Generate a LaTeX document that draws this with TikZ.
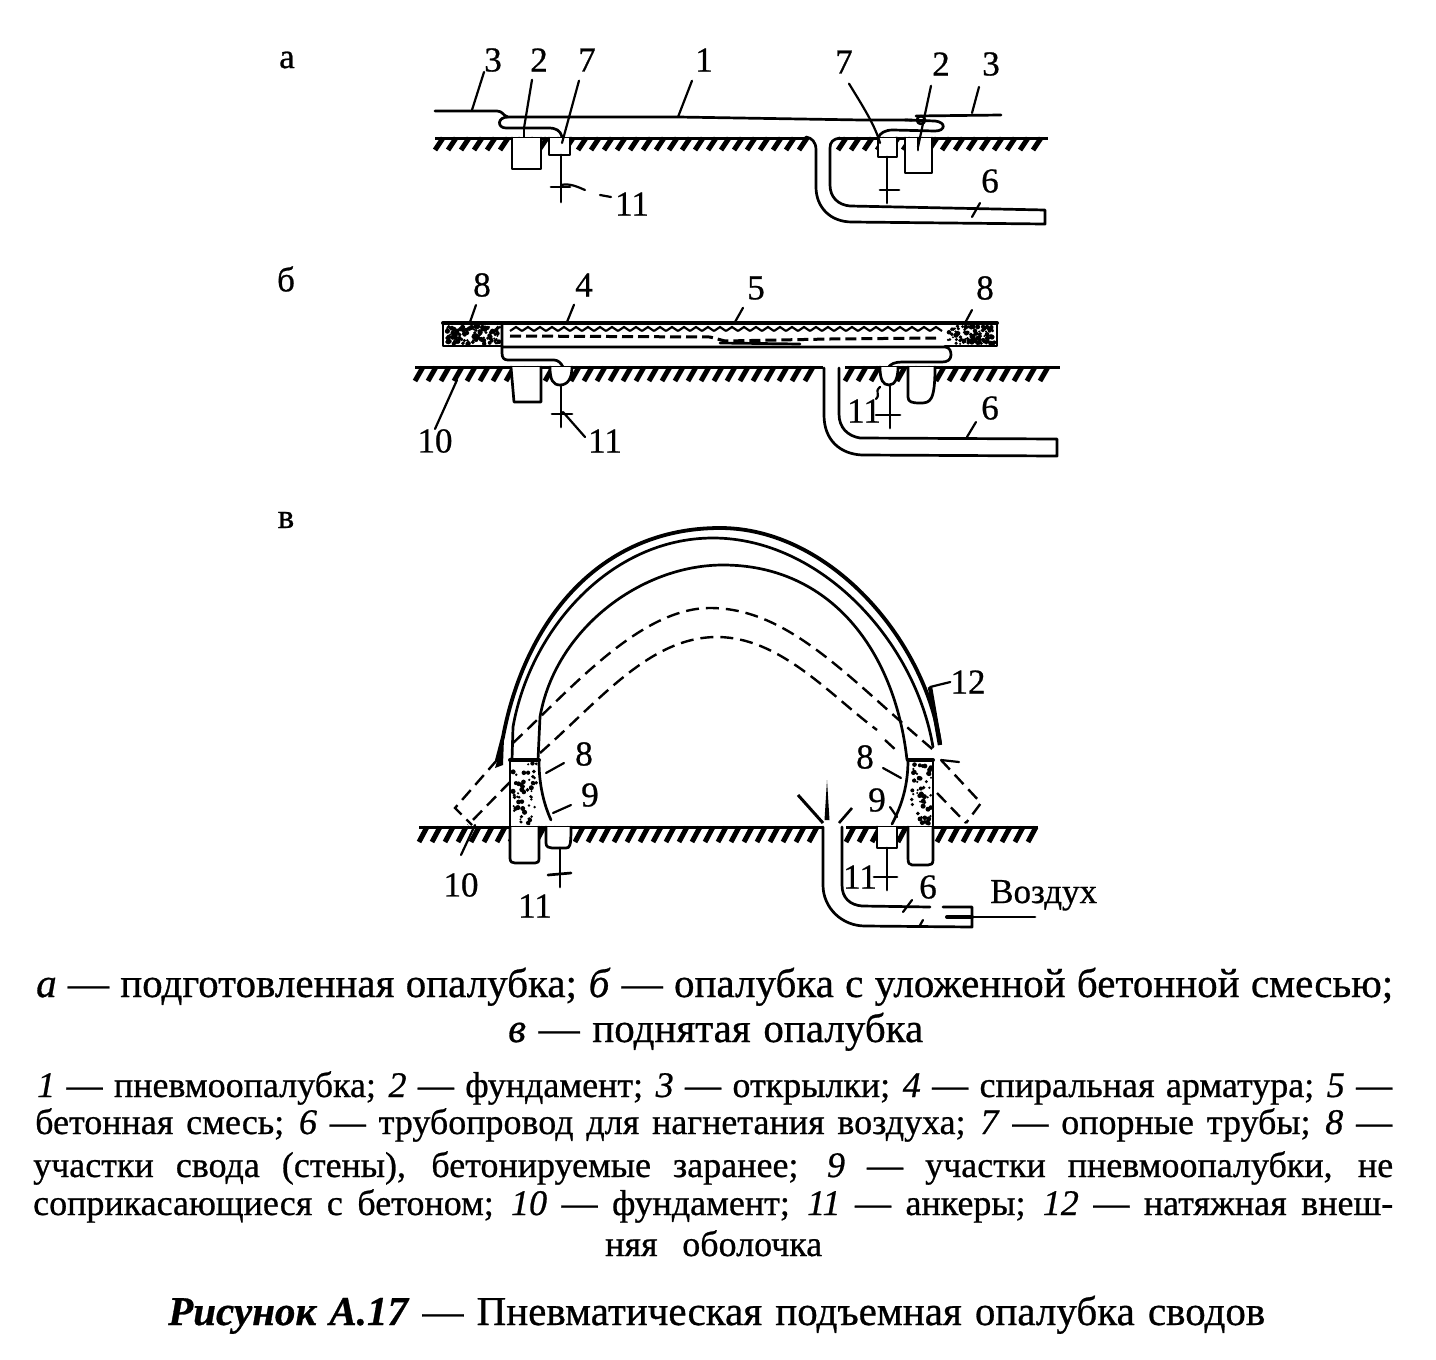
\documentclass[tikz,border=0pt]{standalone}
\usepackage{fontspec}
\setmainfont{Liberation Serif}[FakeBold=0.7]
\usetikzlibrary{calc}
\tikzset{
  ln/.style={line width=2.7pt,line cap=round,line join=round},
  heavy/.style={line width=4pt,line cap=round,line join=round},
  dsh/.style={line width=2.4pt,dash pattern=on 13pt off 7pt},
  leader/.style={line width=2.2pt,line cap=round},
  lab/.style={inner sep=0pt,font=\fontsize{35}{35}\selectfont},
  txt/.style={inner sep=0pt,anchor=base west},
}
\newcommand{\hatchrow}[4]{% x0,x1,ytop,height
  \foreach \hx in {#1,\the\numexpr#1+13\relax,...,#2}{
    \draw[line width=5pt] (\hx,#3+#4) -- (\hx+8,#3);
  }
  \draw[line width=3pt] (#1,#3) -- (#2+8,#3);
}
\newcommand{\stip}[5]{% x0,x1,y0,y1,count
  \foreach \si in {1,...,#5}{
    \pgfmathsetmacro{\sx}{#1+rnd*(#2-#1)}
    \pgfmathsetmacro{\sy}{#3+rnd*(#4-#3)}
    \pgfmathsetmacro{\sr}{1.0+rnd*1.6}
    \fill (\sx,\sy) circle[radius=\sr pt];
  }
}
\begin{document}
\begin{tikzpicture}[x=1pt,y=-1pt]
\useasboundingbox (0,0) rectangle (1436,1360);
\fill[white] (0,0) rectangle (1436,1360);
\pgfmathsetseed{17}

%%% PANEL A
\node[lab] (pa) at (287,60) {а};
\node[lab] (a3l) at (493,60) {3};
\node[lab] (a2l) at (539,60) {2};
\node[lab] (a7l) at (587,60) {7};
\node[lab] (a1) at (704,60) {1};
\node[lab] (a7r) at (844,62) {7};
\node[lab] (a2r) at (941,64) {2};
\node[lab] (a3r) at (991,64) {3};
\node[lab] (a11) at (632,204) {11};
\node[lab] (a6) at (990,181) {6};
\hatchrow{435}{800}{138}{12}
\hatchrow{838}{1040}{138}{12}
% film
\draw[ln] (435,111) -- (497,111) .. controls (503,111) and (503,116) .. (508,117) -- (678,117) -- (862,120) -- (912,120);
\draw[ln] (508,117) .. controls (497,117) and (497,128) .. (506,128) -- (548,128) .. controls (556,128) and (560,130) .. (562,137);
\draw[ln] (916,116) -- (1001,115);
\draw[ln] (905,120) -- (935,121) .. controls (946,122) and (946,131) .. (935,131) -- (893,130) .. controls (885,130) and (880,133) .. (878,138);
\draw[ln] (921,120) circle[radius=4pt];
\draw[ln] (524,128) -- (524,145);
% foundations and cups
\draw[ln,fill=white] (512,138) -- (512,169) -- (541,169) -- (541,138);
\draw[ln,fill=white] (549,138) -- (549,155) -- (570,155) -- (570,138);
\draw[ln] (561,155) -- (561,202);
\draw[ln] (551,187) -- (570,187);
\draw[ln,fill=white] (878,138) -- (878,157) -- (897,157) -- (897,138);
\draw[ln] (887,157) -- (887,203);
\draw[ln] (880,190) -- (899,190);
\draw[ln,fill=white] (905,138) -- (905,173) -- (932,173) -- (932,138);
\draw[ln] (918,138) -- (918,150);
% pipe
\draw[ln] (806,137) .. controls (812,138) and (816,142) .. (816,150) -- (816,187) .. controls (816,207) and (830,222) .. (852,222) -- (1045,224) -- (1045,210) -- (850,206) .. controls (838,205) and (830,197) .. (830,185) -- (830,148) .. controls (830,142) and (833,139) .. (840,138);
% leaders
\draw[leader] (a3l.south west) -- (472,110);
\draw[leader] (a2l.south) ++(-7,8) -- (524,128);
\draw[leader] (a7l.south) ++(-8,9) -- (562,143);
\draw[leader] (a1.south) ++(-12,9) -- (678,117);
\draw[leader] (a7r.south) ++(5,10) .. controls (862,105) and (875,125) .. (880,143);
\draw[leader] (a2r.south) ++(-10,10) -- (918,147);
\draw[leader] (a3r.south) ++(-12,11) -- (972,113);
\draw[leader] (561,185) .. controls (570,183) and (578,187) .. (585,190);
\draw[leader] (600,195) -- (611,197);
\draw[leader] (980,203) -- (972,217);

%%% PANEL B
\node[lab] (pb) at (286,279) {б};
\node[lab] (b8l) at (482,285) {8};
\node[lab] (b4) at (584,285) {4};
\node[lab] (b5) at (756,288) {5};
\node[lab] (b8r) at (985,288) {8};
\node[lab] (b10) at (435,441) {10};
\node[lab] (b11) at (605,441) {11};
\node[lab] (b11r) at (864,411) {11};
\node[lab] (b6) at (990,408) {6};
\hatchrow{415}{815}{367}{14}
\hatchrow{845}{1052}{367}{14}
\draw[heavy] (443,323) -- (997,323);
\draw[ln] (443,323) -- (443,346) -- (502,346);
\draw[ln] (997,323) -- (997,346) -- (945,346);
\stip{446}{500}{326}{344}{130}
\stip{948}{995}{326}{344}{110}
\draw[ln] (502,323) -- (502,353) .. controls (502,358) and (504,360) .. (508,360) -- (554,360) .. controls (558,360) and (561,363) .. (563,367);
\draw[ln] (502,347) -- (945,347) .. controls (950,347) and (951,352) .. (951,355) .. controls (951,360) and (947,362) .. (942,362) -- (902,362) .. controls (895,362) and (890,364) .. (888,368);
\draw[line width=3pt,dash pattern=on 11pt off 5pt] (510,336) -- (710,337) -- (725,341) -- (830,339) -- (936,338);
\foreach \wx in {510,522,...,935}{
  \draw[line width=2.2pt] (\wx,331) -- (\wx+6,327) -- (\wx+12,331);
}
\draw[ln] (720,343) -- (800,344);
% foundations
\draw[ln,fill=white] (511,367) -- (514,402) -- (541,402) -- (541,367);
\draw[ln,fill=white] (550,367) .. controls (550,380) and (553,385) .. (560,385) .. controls (568,385) and (572,378) .. (572,367);
\draw[ln] (561,385) -- (561,427);
\draw[ln] (552,414) -- (572,414);
\draw[ln,fill=white] (880,367) .. controls (880,380) and (883,385) .. (889,385) .. controls (895,385) and (898,378) .. (898,367);
\draw[ln] (890,385) -- (890,428);
\draw[ln] (876,415) -- (900,415);
\draw[ln,fill=white] (908,367) -- (908,397) .. controls (908,402) and (912,403) .. (920,403) .. controls (930,403) and (935,402) .. (935,367);
% pipe
\draw[ln] (824,368) -- (824,415) .. controls (824,440) and (840,454) .. (862,455) -- (1057,456) -- (1057,439) -- (860,438) .. controls (848,436) and (839,428) .. (839,414) -- (839,368);
% leaders
\draw[leader] (457,380) -- (b10.north) ++(5,-3);
\draw[leader] (b8l.south) ++(-6,8) -- (470,322);
\draw[leader] (b4.south) ++(-10,8) -- (567,322);
\draw[leader] (b5.south) ++(-13,8) -- (735,322);
\draw[leader] (b8r.south) ++(-13,10) -- (965,323);
\draw[leader] (563,412) -- (585,437);
\draw[leader] (976,422) -- (967,437);
\draw[leader] (880,387) .. controls (874,392) and (881,394) .. (876,399);

%%% PANEL C
\node[lab] (pc) at (286,520) {в};
\node[lab] (c12) at (968,682) {12};
\node[lab] (c8l) at (584,754) {8};
\node[lab] (c9l) at (590,795) {9};
\node[lab] (c8r) at (865,757) {8};
\node[lab] (c9r) at (877,800) {9};
\node[lab] (c10) at (461,885) {10};
\node[lab] (c11l) at (535,906) {11};
\node[lab] (c11r) at (860,877) {11};
\node[lab] (c6) at (928,887) {6};
\node[lab,anchor=base west] (air) at (990,903) {Воздух};
\hatchrow{419}{815}{827}{15}
\hatchrow{846}{1030}{827}{15}
% arches
\draw[line width=3.8pt,line join=round,line cap=round] (497,760) -- (503,737) .. controls (525,620) and (600,528) .. (720,528) .. controls (830,528) and (925,640) .. (940,743);
\fill (495,768) -- (504,738) -- (503,765) -- cycle;
\draw[ln] (512,760) -- (513,727) .. controls (530,630) and (610,538) .. (713,538) .. controls (820,538) and (915,640) .. (933,747);
\draw[ln] (538,760) -- (540,717) .. controls (555,630) and (640,565) .. (723,565) .. controls (830,565) and (895,650) .. (907,760);
% dashed lifted outline
\draw[dsh] (513,743) .. controls (570,690) and (640,608) .. (710,608) .. controls (790,608) and (850,680) .. (937,753);
\draw[dsh] (941,760) -- (981,803) -- (966,823);
\draw[dsh] (540,753) .. controls (600,700) and (650,637) .. (717,637) .. controls (780,637) and (830,695) .. (877,730);
\draw[dsh] (885,740) -- (898,752);
\draw[dsh] (937,793) -- (966,823);
\draw[dsh] (497,760) -- (455,808) -- (472,825);
\draw[dsh] (510,782) -- (468,825);
% walls
\draw[ln,fill=white] (510,827) -- (510,858) .. controls (510,862) and (512,863) .. (515,863) -- (535,863) .. controls (538,863) and (539,862) .. (539,858) -- (539,827);
\draw[ln] (510,760) -- (510,827);
\draw[heavy] (510,760) -- (539,760);
\draw[ln] (539,760) .. controls (539,780) and (542,800) .. (551,820);
\stip{513}{537}{763}{824}{55}
\draw[ln,fill=white] (546,827) -- (546,843) .. controls (546,847) and (549,848) .. (552,848) -- (566,848) .. controls (570,848) and (571,846) .. (571,827);
\draw[ln] (560,848) -- (560,887);
\draw[ln] (548,875) -- (571,873);
\draw[ln,fill=white] (933,827) -- (933,860) .. controls (933,864) and (931,865) .. (928,865) -- (912,865) .. controls (909,865) and (908,863) .. (908,858) -- (908,827);
\draw[ln] (933,760) -- (933,827);
\draw[heavy] (908,760) -- (933,760);
\draw[ln] (908,760) .. controls (908,785) and (902,805) .. (892,824);
\stip{911}{931}{763}{824}{55}
\draw[ln,fill=white] (877,827) -- (877,848) -- (897,848) -- (897,827);
\draw[ln] (887,848) -- (887,890);
\draw[ln] (874,877) -- (897,877);
% pipe
\draw[ln] (823,827) -- (823,885) .. controls (823,908) and (842,926) .. (865,926) -- (972,927) -- (972,907) -- (943,907);
\draw[ln] (842,827) -- (842,885) .. controls (842,898) and (850,905) .. (862,906) -- (930,907);
\draw[heavy] (947,917) -- (972,917);
\draw[ln] (972,917) -- (1035,917);
% leaders
\draw[leader] (912,900) -- (903,912);
\draw[leader] (923,920) -- (919,927);
\draw[line width=3pt] (798,795) -- (823,823);
\fill (827,780) -- (829.5,820) -- (824.5,820) -- cycle;
\draw[line width=2.6pt] (852,808) -- (839,823);
\draw[leader] (546,773) -- (564,763);
\draw[leader] (553,813) -- (571,805);
\draw[leader] (883,768) -- (901,778);
\draw[leader] (890,807) -- (897,817);
\draw[leader] (930,687) -- (c12.west);
\draw[leader] (941,760) -- (959,762);
\draw[leader] (475,825) -- (461,855);
\draw[line width=4.4pt] (930,687) -- (940,745);

%%% TEXT
\begingroup
\fontsize{41}{41}\selectfont
\node[txt] (t1) at (36,997) {\makebox[1357pt][s]{\textit{а} — подготовленная опалубка; \textit{б} — опалубка с уложенной бетонной смесью;}};
\node[txt] (t2) at (508,1042) {\makebox[415pt][s]{\textit{в} — поднятая опалубка}};
\endgroup
\begingroup
\fontsize{36}{36}\selectfont
\node[txt] (t3) at (37,1097) {\makebox[1355pt][s]{\textit{1} — пневмоопалубка; \textit{2} — фундамент; \textit{3} — открылки; \textit{4} — спиральная арматура; \textit{5} —}};
\node[txt] (t4) at (35,1134) {\makebox[1357pt][s]{бетонная смесь; \textit{6} — трубопровод для нагнетания воздуха; \textit{7} — опорные трубы; \textit{8} —}};
\node[txt] (t5) at (33,1177) {\makebox[1360pt][s]{участки свода (стены), бетонируемые заранее; \textit{9} — участки пневмоопалубки, не}};
\node[txt] (t6) at (33,1215) {\makebox[1360pt][s]{соприкасающиеся с бетоном; \textit{10} — фундамент; \textit{11} — анкеры; \textit{12} — натяжная внеш-}};
\node[txt] (t7) at (605,1256) {\makebox[217pt][s]{няя оболочка}};
\endgroup
\begingroup
\fontsize{41}{41}\selectfont
\node[txt] (t8) at (168,1325) {\makebox[1097pt][s]{\textbf{\textit{Рисунок А.17}} — Пневматическая подъемная опалубка сводов}};
\endgroup
\end{tikzpicture}
\end{document}
